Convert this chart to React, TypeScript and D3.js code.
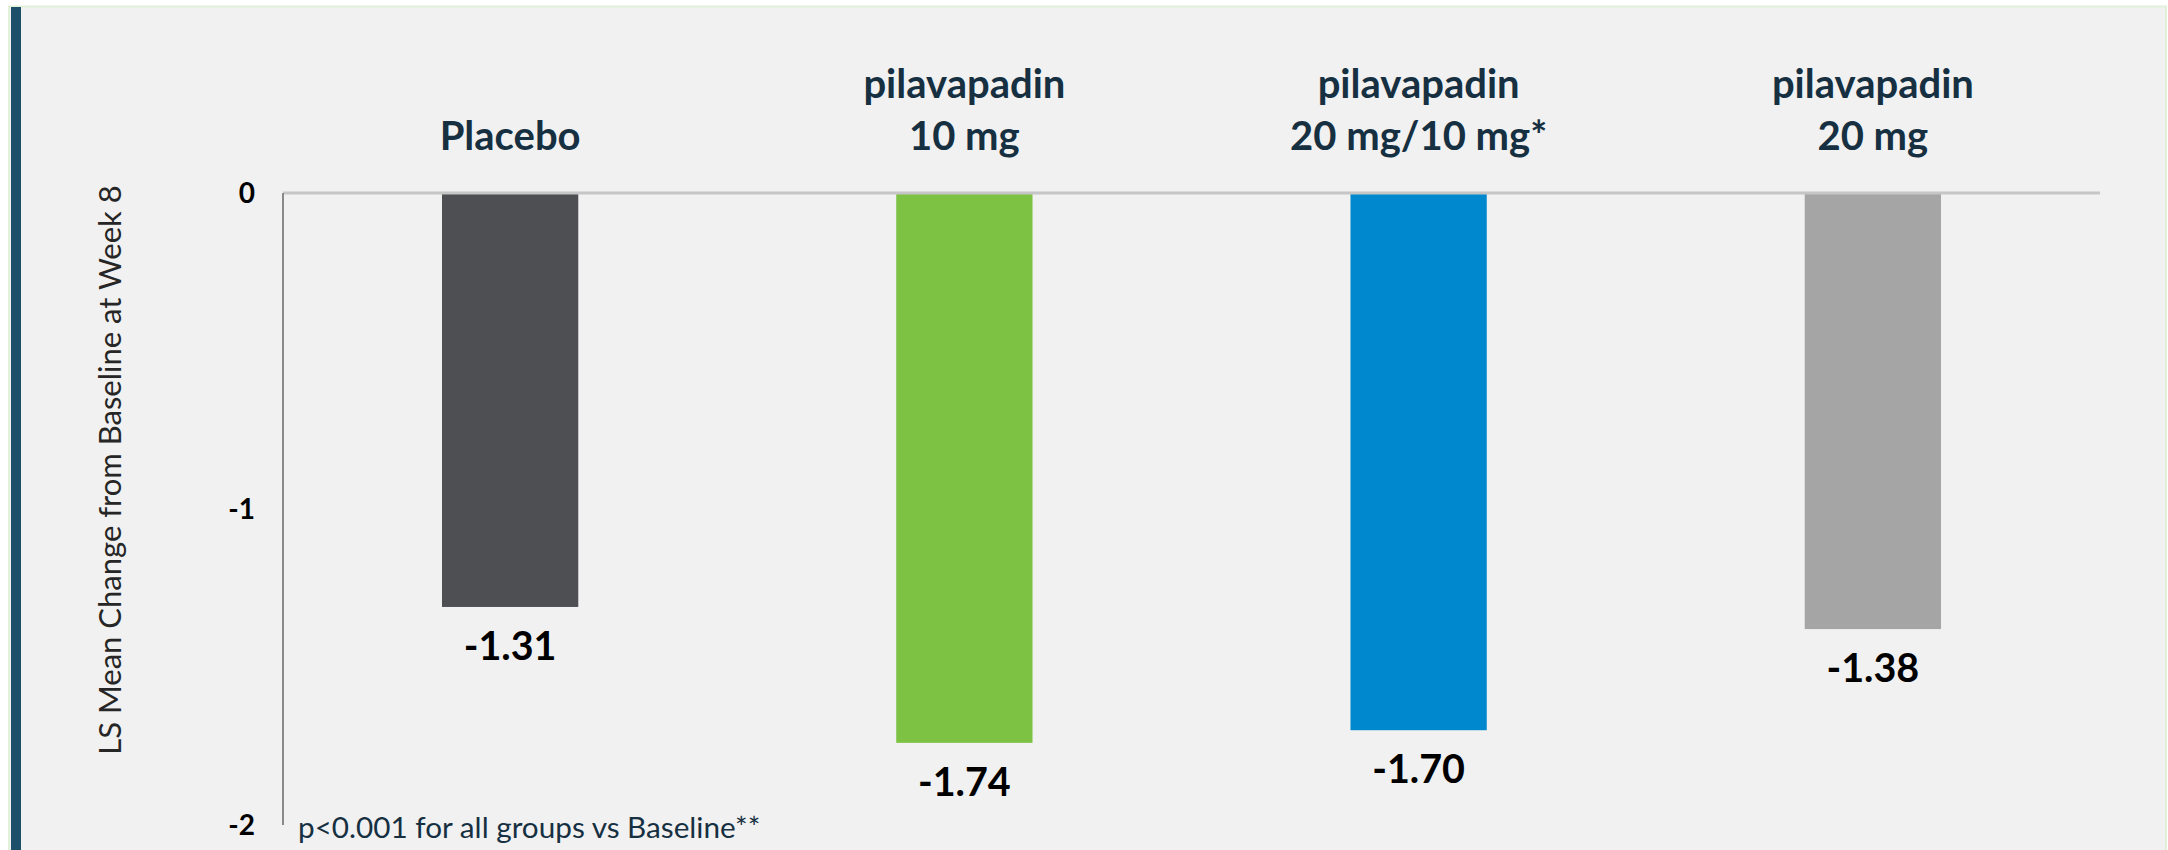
import * as d3 from 'd3';

const categories = ['placebo', 'p10', 'p2010', 'p20'];
const labelLines = [['Placebo'], ['pilavapadin', '10 mg'], ['pilavapadin', '20 mg/10 mg*'], ['pilavapadin', '20 mg']];
const values = [-1.31, -1.74, -1.70, -1.38];
const valueLabels = ['-1.31', '-1.74', '-1.70', '-1.38'];
const barColors = ['#4d4f53', '#7dc243', '#0088cf', '#a5a5a5'];
const yTicks = [0, -1, -2];
const yTitle = 'LS Mean Change from Baseline at Week 8';
const footnote = 'p<0.001 for all groups vs Baseline**';

const W = 2168;
const H = 850;
const FONT = 'Lato, "Open Sans", sans-serif';
const NAVY = '#163042';

export default function App() {
  const x = d3.scaleBand<string>().domain(categories).range([283, 2100]).paddingInner(0.7).paddingOuter(0.35);
  const y = d3.scaleLinear().domain([0, -2]).range([193, 825]);
  const cx = (c: string) => (x(c) ?? 0) + x.bandwidth() / 2;

  return (
    <svg width={W} height={H} style={{ position: 'absolute', left: 0, top: 0, display: 'block' }}>
      {/* panel */}
      <rect x={0} y={0} width={W} height={H} fill="#ffffff" />
      <rect x={9} y={6.5} width={2157} height={H} fill="#f1f1f1" stroke="#e2efd9" strokeWidth={2} />
      <rect x={11} y={7} width={10} height={H} fill="#1d5068" />

      {/* bars */}
      {categories.map((c, i) => (
        <rect key={c} x={x(c)} y={y(0)} width={x.bandwidth()} height={y(values[i]) - y(0)} fill={barColors[i]} />
      ))}

      {/* axes */}
      <line x1={283} x2={2100} y1={y(0)} y2={y(0)} stroke="#c6c6c6" strokeWidth={3} />
      <line x1={283} x2={283} y1={y(0)} y2={y(-2)} stroke="#8a8a8a" strokeWidth={2} />
      {yTicks.map(t => (
        <text key={t} x={255} y={y(t)} dy="0.36em" textAnchor="end" fontFamily={FONT} fontWeight={700} fontSize={28} fill="#000">
          {String(t)}
        </text>
      ))}

      {/* category labels */}
      {categories.map((c, i) => {
        const lines = labelLines[i];
        return (
          <text key={c} textAnchor="middle" fontFamily={FONT} fontWeight={700} fontSize={40} fill={NAVY}>
            {lines.map((l, j) => (
              <tspan key={j} x={cx(c)} y={150 - (lines.length - 1 - j) * 52}>{l}</tspan>
            ))}
          </text>
        );
      })}

      {/* value labels */}
      {categories.map((c, i) => (
        <text key={c} x={cx(c)} y={y(values[i]) + 53} textAnchor="middle"
          fontFamily={FONT} fontWeight={700} fontSize={39.5} fill="#000">
          {valueLabels[i]}
        </text>
      ))}

      {/* y title */}
      <text transform="translate(121,470) rotate(-90)" textAnchor="middle" fontFamily={FONT} fontSize={31} fill="#262626">
        {yTitle}
      </text>

      {/* footnote */}
      <text x={298} y={838} fontFamily={FONT} fontSize={29.7} fill={NAVY}>{footnote}</text>
    </svg>
  );
}
